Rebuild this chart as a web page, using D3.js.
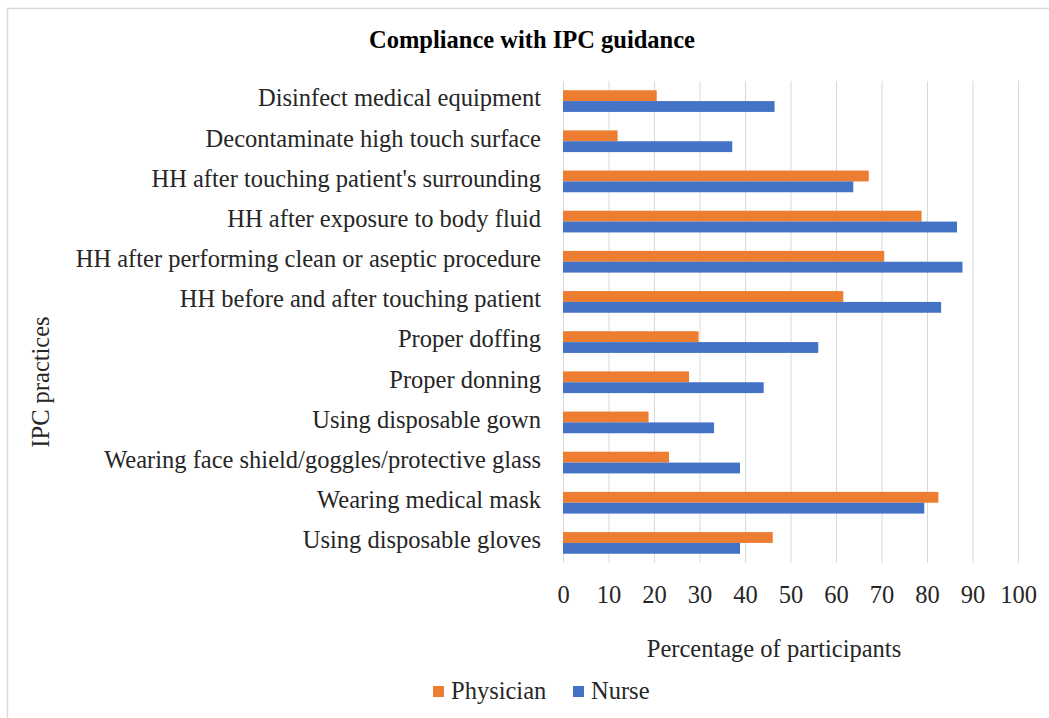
<!DOCTYPE html>
<html><head><meta charset="utf-8">
<script src="https://cdn.jsdelivr.net/npm/d3@7"></script>
<style>body{margin:0;background:#fff}svg{display:block}</style>
</head><body>
<svg id="c" width="1049" height="718"></svg>
<script>
const categories = [
  "Disinfect medical equipment",
  "Decontaminate high touch surface",
  "HH after touching patient's surrounding",
  "HH after exposure to body fluid",
  "HH after performing clean or aseptic procedure",
  "HH before and after touching patient",
  "Proper doffing",
  "Proper donning",
  "Using disposable gown",
  "Wearing face shield/goggles/protective glass",
  "Wearing medical mask",
  "Using disposable gloves"
];
const physician = [20.6, 12.0, 67.2, 78.8, 70.6, 61.6, 29.8, 27.7, 18.8, 23.3, 82.5, 46.1];
const nurse     = [46.5, 37.2, 63.8, 86.6, 87.8, 83.1, 56.1, 44.1, 33.2, 38.9, 79.4, 38.9];
const seriesNames = ["Physician", "Nurse"];
const seriesColors = ["#ED7D31", "#4472C4"];
const xTicks = [0,10,20,30,40,50,60,70,80,90,100];

const svg = d3.select("#c");
const font = "'Liberation Serif','Times New Roman',serif";
const fs = 24.5;

svg.append("rect").attr("x",7.5).attr("y",8.5).attr("width",1100).attr("height",800)
  .attr("fill","#fff").attr("stroke","#d9d9d9").attr("stroke-width",1.5);

const x = d3.scaleLinear().domain([0,100]).range([563,1018]);
const y = d3.scaleBand().domain(categories).range([81,563]).paddingInner(0.46).paddingOuter(0.23);
const inner = d3.scaleBand().domain(seriesNames).range([0, y.bandwidth()]);

// gridlines
svg.append("g").selectAll("line").data(xTicks).join("line")
  .attr("x1",d=>x(d)+0.5).attr("x2",d=>x(d)+0.5).attr("y1",81).attr("y2",563)
  .attr("stroke","#d9d9d9").attr("stroke-width",1);

// bars
const data = categories.map((c,i)=>({c, vals:[physician[i], nurse[i]]}));
const g = svg.append("g");
data.forEach(d=>{
  seriesNames.forEach((s,j)=>{
    g.append("rect").attr("x",x(0)).attr("y",y(d.c)+inner(s))
      .attr("width",x(d.vals[j])-x(0)).attr("height",inner.bandwidth())
      .attr("fill",seriesColors[j]);
  });
});

// category labels
const yAxis = d3.axisLeft(y).tickSize(0).tickPadding(22);
const ya = svg.append("g").attr("transform",`translate(${x(0)},0)`).call(yAxis);
ya.select(".domain").remove();
ya.selectAll("text").attr("font-family",font).attr("font-size",fs).attr("fill","#262626")
  .attr("dy","0.22em");

// x tick labels
const xAxis = d3.axisBottom(x).tickValues(xTicks).tickSize(0).tickPadding(0);
const xa = svg.append("g").attr("transform","translate(0,563)").call(xAxis);
xa.select(".domain").remove();
xa.selectAll("text").attr("font-family",font).attr("font-size",fs).attr("fill","#262626")
  .attr("y",40).attr("dy",0);

// title
svg.append("text").attr("x",532).attr("y",48).attr("text-anchor","middle")
  .attr("font-family",font).attr("font-weight","bold").attr("font-size",fs).attr("fill","#000")
  .text("Compliance with IPC guidance");

// axis titles
svg.append("text").attr("x",774).attr("y",657).attr("text-anchor","middle")
  .attr("font-family",font).attr("font-size",fs).attr("fill","#262626")
  .text("Percentage of participants");
svg.append("text").attr("transform","translate(49,382) rotate(-90)").attr("text-anchor","middle")
  .attr("font-family",font).attr("font-size",fs).attr("fill","#262626")
  .text("IPC practices");

// legend
const leg = svg.append("g");
const legX = [433, 573];
seriesNames.forEach((s,j)=>{
  leg.append("rect").attr("x",legX[j]).attr("y",686).attr("width",11).attr("height",11).attr("fill",seriesColors[j]);
  leg.append("text").attr("x",legX[j]+18).attr("y",699).attr("font-family",font).attr("font-size",fs)
    .attr("fill","#262626").text(s);
});
</script>
</body></html>
